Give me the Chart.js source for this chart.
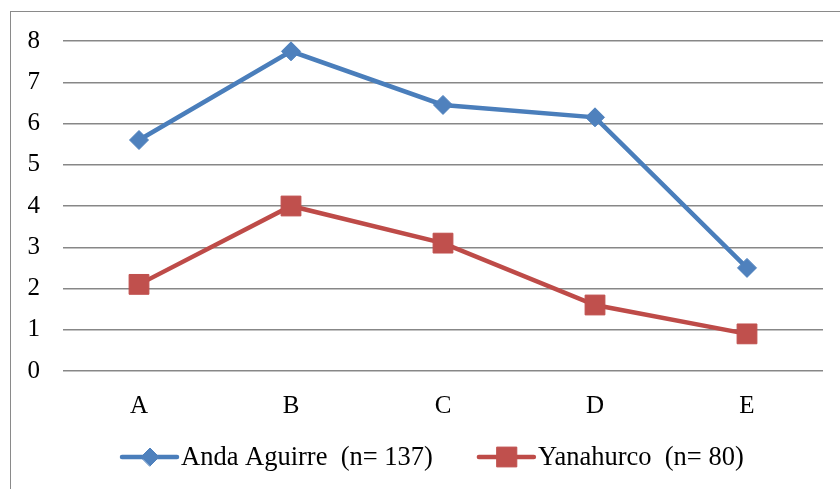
<!DOCTYPE html>
<html>
<head>
<meta charset="utf-8">
<script src="https://cdn.jsdelivr.net/npm/chart.js@4"></script>
<style>
  html, body { margin: 0; padding: 0; background: #fff; }
  #wrap { position: relative; width: 840px; height: 489px; overflow: hidden; }
  #frame { position: absolute; left: 10px; top: 11px; width: 850px; height: 500px; border: 1.5px solid #8a8a8a; box-sizing: border-box; }
  canvas { position: absolute; left: 0; top: 0; }
</style>
</head>
<body>
<div id="wrap">
  <div id="frame"></div>
  <canvas id="chart" width="840" height="489"></canvas>
</div>
<script>
// data
const categories = ['A', 'B', 'C', 'D', 'E'];
const andaAguirre = [5.6, 7.75, 6.45, 6.15, 2.5];
const yanahurco = [2.1, 4.0, 3.1, 1.6, 0.9];
const seriesNames = ['Anda Aguirre  (n= 137)', 'Yanahurco  (n= 80)'];
const yTicks = [0, 1, 2, 3, 4, 5, 6, 7, 8];

const FONT = '"Liberation Serif", "Times New Roman", serif';

// legend drawn by hand: line with the marker in the middle, like the original
const lineLegend = {
    id: 'lineLegend',
    afterDraw(chart) {
        const ctx = chart.ctx;
        const y = 457;
        let x = 122;
        ctx.save();
        ctx.font = '26.5px ' + FONT;
        ctx.textBaseline = 'middle';
        chart.data.datasets.forEach(ds => {
            ctx.strokeStyle = ds.borderColor;
            ctx.lineWidth = 4.5;
            ctx.lineCap = 'round';
            ctx.beginPath();
            ctx.moveTo(x, y);
            ctx.lineTo(x + 55, y);
            ctx.stroke();
            ctx.fillStyle = ds.pointBackgroundColor;
            ctx.strokeStyle = ds.pointBorderColor;
            ctx.lineWidth = 1;
            Chart.helpers.drawPoint(ctx, {
                pointStyle: ds.pointStyle,
                radius: ds.legendRadius,
                borderWidth: 1
            }, x + 28, y);
            ctx.fillStyle = '#000';
            ctx.fillText(ds.label, x + 59, y + 1);
            x += 59 + ctx.measureText(ds.label).width + 46;
        });
        ctx.restore();
    }
};

const ctx = document.getElementById('chart').getContext('2d');
const chart = new Chart(ctx, {
    type: 'line',
    data: {
        labels: categories,
        datasets: [{
            label: seriesNames[0],
            data: andaAguirre,
            borderColor: '#4a7ebb',
            borderWidth: 4.5,
            pointStyle: 'rectRot',
            pointRadius: 9.5,
            legendRadius: 9,
            pointBackgroundColor: '#4f81bd',
            pointBorderColor: '#4f81bd',
            pointBorderWidth: 1,
            tension: 0
        }, {
            label: seriesNames[1],
            data: yanahurco,
            borderColor: '#be4b48',
            borderWidth: 4.5,
            pointStyle: 'rect',
            pointRadius: 14,
            legendRadius: 14,
            pointBackgroundColor: '#c0504d',
            pointBorderColor: '#c0504d',
            pointBorderWidth: 1,
            tension: 0
        }]
    },
    options: {
        responsive: false,
        animation: false,
        layout: { padding: { left: 0, top: 41, right: 17, bottom: 0 } },
        plugins: {
            legend: { display: false },
            tooltip: { enabled: false }
        },
        scales: {
            x: {
                offset: true,
                grid: { display: false, drawTicks: false },
                border: { display: false },
                ticks: { color: '#000', padding: 20, font: { family: FONT, size: 25 } },
                afterFit(scale) { scale.height = 118; }
            },
            y: {
                min: 0,
                max: 8,
                afterBuildTicks(scale) { scale.ticks = yTicks.map(v => ({ value: v })); },
                grid: { color: '#878787', lineWidth: 1.5, drawTicks: false },
                border: { display: false },
                ticks: { color: '#000', padding: 23, font: { family: FONT, size: 25 } },
                afterFit(scale) { scale.width = 63; }
            }
        }
    },
    plugins: [lineLegend]
});
</script>
</body>
</html>
